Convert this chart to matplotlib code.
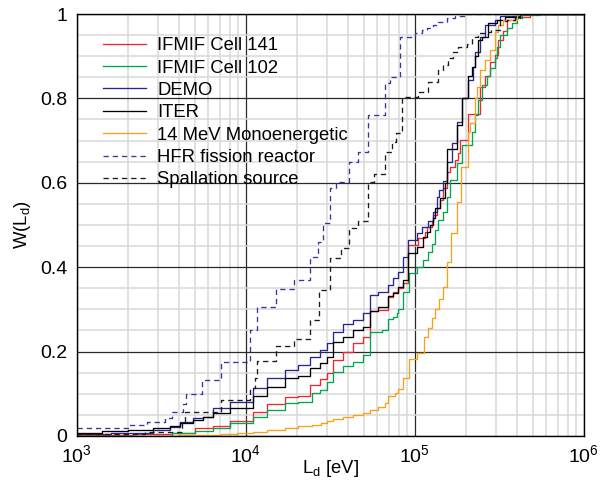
import numpy as np
import matplotlib
matplotlib.use("Agg")
import matplotlib.pyplot as plt

plt.rcParams["font.family"] = ["Liberation Sans", "DejaVu Sans"]
plt.rcParams["mathtext.fontset"] = "custom"
plt.rcParams["mathtext.rm"] = "Liberation Sans"
plt.rcParams["mathtext.it"] = "Liberation Sans:italic"
plt.rcParams["mathtext.bf"] = "Liberation Sans:bold"

# Cumulative damage-energy distributions W(L_d); energies given as log10(L_d / eV)
ifmif141_loge = [3.000, 3.330, 3.562, 3.697, 3.807, 3.905, 4.043, 4.122, 4.231, 4.309,
                 4.379, 4.438, 4.478, 4.517, 4.576, 4.635, 4.694, 4.734, 4.783, 4.842,
                 4.872, 4.901, 4.927, 4.960, 5.020, 5.059, 5.069, 5.099, 5.108, 5.128,
                 5.148, 5.168, 5.188, 5.207, 5.237, 5.256, 5.266, 5.315, 5.385, 5.414,
                 5.444, 5.473, 5.493, 5.522, 5.542, 5.602, 5.680]
ifmif141_w = [0.002, 0.004, 0.008, 0.018, 0.024, 0.036, 0.058, 0.076, 0.092, 0.095,
              0.121, 0.134, 0.150, 0.180, 0.200, 0.221, 0.235, 0.295, 0.299, 0.330,
              0.342, 0.350, 0.363, 0.453, 0.468, 0.484, 0.496, 0.508, 0.524, 0.540,
              0.559, 0.587, 0.626, 0.638, 0.654, 0.670, 0.701, 0.764, 0.828, 0.852,
              0.887, 0.903, 0.938, 0.960, 0.986, 0.993, 1.000]

ifmif102_loge = [3.000, 3.562, 3.697, 3.807, 3.905, 4.043, 4.122, 4.231, 4.309, 4.389,
                 4.438, 4.478, 4.517, 4.576, 4.635, 4.694, 4.734, 4.808, 4.842, 4.872,
                 4.892, 4.901, 4.927, 4.966, 5.010, 5.049, 5.079, 5.099, 5.118, 5.138,
                 5.164, 5.188, 5.207, 5.247, 5.276, 5.335, 5.355, 5.375, 5.395, 5.424,
                 5.447, 5.473, 5.483, 5.503, 5.542, 5.572, 5.602, 5.631, 5.740]
ifmif102_w = [0.001, 0.006, 0.012, 0.018, 0.030, 0.046, 0.062, 0.077, 0.081, 0.101,
              0.109, 0.129, 0.152, 0.165, 0.176, 0.192, 0.247, 0.251, 0.277, 0.283,
              0.291, 0.302, 0.342, 0.386, 0.401, 0.417, 0.437, 0.454, 0.488, 0.512,
              0.531, 0.567, 0.607, 0.646, 0.690, 0.721, 0.761, 0.796, 0.832, 0.852,
              0.871, 0.895, 0.922, 0.950, 0.966, 0.979, 0.990, 0.998, 1.000]

demo_loge = [3.000, 3.200, 3.450, 3.550, 3.609, 3.688, 3.746, 3.807, 3.905, 4.043,
             4.122, 4.231, 4.309, 4.379, 4.438, 4.478, 4.517, 4.576, 4.635, 4.694,
             4.734, 4.783, 4.842, 4.872, 4.901, 4.927, 4.960, 5.010, 5.044, 5.079,
             5.108, 5.128, 5.144, 5.164, 5.188, 5.217, 5.247, 5.276, 5.315, 5.345,
             5.355, 5.385, 5.414, 5.473, 5.503, 5.621]
demo_w = [0.004, 0.008, 0.014, 0.022, 0.034, 0.042, 0.046, 0.066, 0.081, 0.113,
          0.137, 0.156, 0.168, 0.188, 0.204, 0.220, 0.247, 0.265, 0.275, 0.291,
          0.334, 0.342, 0.358, 0.374, 0.389, 0.425, 0.464, 0.480, 0.496, 0.510,
          0.530, 0.567, 0.583, 0.605, 0.649, 0.694, 0.745, 0.800, 0.844, 0.875,
          0.911, 0.946, 0.974, 0.985, 0.995, 1.000]

iter_loge = [3.000, 3.146, 3.300, 3.450, 3.550, 3.609, 3.688, 3.746, 3.807, 3.905,
             4.043, 4.122, 4.231, 4.309, 4.379, 4.438, 4.478, 4.517, 4.576, 4.635,
             4.694, 4.734, 4.783, 4.842, 4.872, 4.901, 4.927, 4.960, 5.010, 5.049,
             5.069, 5.089, 5.108, 5.118, 5.148, 5.178, 5.188, 5.247, 5.276, 5.315,
             5.335, 5.355, 5.375, 5.395, 5.434, 5.483, 5.532, 5.621]
iter_w = [0.006, 0.011, 0.015, 0.018, 0.024, 0.030, 0.038, 0.045, 0.054, 0.066,
          0.095, 0.117, 0.137, 0.142, 0.160, 0.174, 0.188, 0.223, 0.235, 0.251,
          0.259, 0.296, 0.305, 0.332, 0.340, 0.352, 0.370, 0.433, 0.449, 0.471,
          0.484, 0.500, 0.516, 0.540, 0.563, 0.600, 0.680, 0.737, 0.802, 0.852,
          0.875, 0.900, 0.938, 0.946, 0.979, 0.986, 0.993, 1.000]

mono14_loge = [3.000, 3.600, 3.850, 3.950, 4.043, 4.122, 4.231, 4.309, 4.389, 4.442,
               4.478, 4.517, 4.576, 4.635, 4.694, 4.734, 4.783, 4.822, 4.842, 4.882,
               4.901, 4.927, 4.966, 5.014, 5.055, 5.079, 5.099, 5.118, 5.144, 5.164,
               5.188, 5.211, 5.251, 5.271, 5.315, 5.325, 5.355, 5.365, 5.385, 5.414,
               5.444, 5.473, 5.493, 5.522, 5.602]
mono14_w = [0.000, 0.002, 0.004, 0.006, 0.010, 0.015, 0.020, 0.023, 0.027, 0.031,
            0.035, 0.040, 0.045, 0.050, 0.055, 0.062, 0.068, 0.077, 0.095, 0.101,
            0.111, 0.138, 0.182, 0.197, 0.235, 0.255, 0.280, 0.300, 0.325, 0.352,
            0.412, 0.480, 0.555, 0.638, 0.721, 0.741, 0.800, 0.828, 0.867, 0.891,
            0.915, 0.958, 0.974, 0.986, 1.000]

hfr_loge = [3.000, 3.302, 3.414, 3.521, 3.562, 3.627, 3.645, 3.740, 3.852, 4.024,
            4.065, 4.178, 4.284, 4.379, 4.426, 4.456, 4.497, 4.533, 4.609, 4.663,
            4.722, 4.822, 4.852, 4.911, 5.000, 5.040, 5.069, 5.104, 5.138, 5.188,
            5.237, 5.306]
hfr_w = [0.019, 0.026, 0.034, 0.042, 0.058, 0.076, 0.100, 0.133, 0.175, 0.250,
         0.305, 0.348, 0.370, 0.424, 0.460, 0.504, 0.587, 0.603, 0.650, 0.674,
         0.760, 0.836, 0.850, 0.946, 0.954, 0.962, 0.966, 0.974, 0.980, 0.990,
         0.996, 1.000]

spall_loge = [3.000, 3.400, 3.620, 3.640, 3.852, 4.024, 4.055, 4.065, 4.178, 4.284,
              4.379, 4.433, 4.497, 4.562, 4.609, 4.663, 4.722, 4.757, 4.822, 4.862,
              4.890, 4.925, 5.020, 5.075, 5.138, 5.166, 5.194, 5.225, 5.254, 5.308,
              5.337, 5.373, 5.414, 5.450, 5.503, 5.544, 5.592, 5.621]
spall_w = [0.004, 0.010, 0.030, 0.058, 0.085, 0.113, 0.137, 0.177, 0.213, 0.231,
           0.275, 0.345, 0.421, 0.445, 0.494, 0.510, 0.603, 0.622, 0.674, 0.697,
           0.718, 0.803, 0.816, 0.840, 0.867, 0.879, 0.895, 0.911, 0.922, 0.930,
           0.946, 0.954, 0.958, 0.962, 0.983, 0.986, 0.990, 1.000]

x_min, x_max = 1e3, 1e6

series = [
    ("IFMIF Cell 141", ifmif141_loge, ifmif141_w, "#f0282d", "-"),
    ("IFMIF Cell 102", ifmif102_loge, ifmif102_w, "#00a651", "-"),
    ("DEMO", demo_loge, demo_w, "#262690", "-"),
    ("ITER", iter_loge, iter_w, "#000000", "-"),
    ("14 MeV Monoenergetic", mono14_loge, mono14_w, "#f7a11a", "-"),
    ("HFR fission reactor", hfr_loge, hfr_w, "#3535a0", "--"),
    ("Spallation source", spall_loge, spall_w, "#1a1a1a", "--"),
]

fig = plt.figure(figsize=(6.01, 4.88), dpi=100)
ax = fig.add_axes([0.128, 0.1066, 0.8436, 0.8647])

for label, loge, w, color, ls in series:
    e = np.append(10.0 ** np.asarray(loge), x_max)
    v = np.append(w, w[-1])
    line, = ax.step(e, v, where="post", color=color, lw=0.95, label=label)
    if ls == "--":
        line.set_dashes((4, 3))

ax.set_xscale("log")
ax.set_xlim(x_min, x_max)
ax.set_ylim(0, 1)
ax.set_yticks([0, 0.2, 0.4, 0.6, 0.8, 1.0])
ax.set_yticklabels(["0", "0.2", "0.4", "0.6", "0.8", "1"])
ax.yaxis.set_minor_locator(matplotlib.ticker.MultipleLocator(0.05))
ax.xaxis.set_minor_locator(matplotlib.ticker.LogLocator(base=10, subs=np.arange(2, 10)))
ax.xaxis.set_minor_formatter(matplotlib.ticker.NullFormatter())

ax.set_axisbelow(True)
ax.grid(which="minor", color="#d8d8d8", lw=1.1)
ax.grid(which="major", color="#2a2a2a", lw=0.9)
ax.tick_params(which="both", length=0, labelsize=14)
ax.tick_params(axis="y", pad=7)
ax.tick_params(axis="x", pad=6)
for s in ax.spines.values():
    s.set_color("black")
    s.set_linewidth(1.0)

ax.set_xlabel(r"L$_\mathrm{d}$ [eV]", fontsize=13.3, labelpad=-6)
ax.set_ylabel(r"W(L$_\mathrm{d}$)", fontsize=13.3, labelpad=5)

leg = ax.legend(loc="upper left", bbox_to_anchor=(0.051, 0.945), frameon=False,
                fontsize=13.3, handlelength=2.35, handletextpad=0.6,
                labelspacing=0.29, borderpad=0, borderaxespad=0)

fig.savefig("out.png", dpi=100)
